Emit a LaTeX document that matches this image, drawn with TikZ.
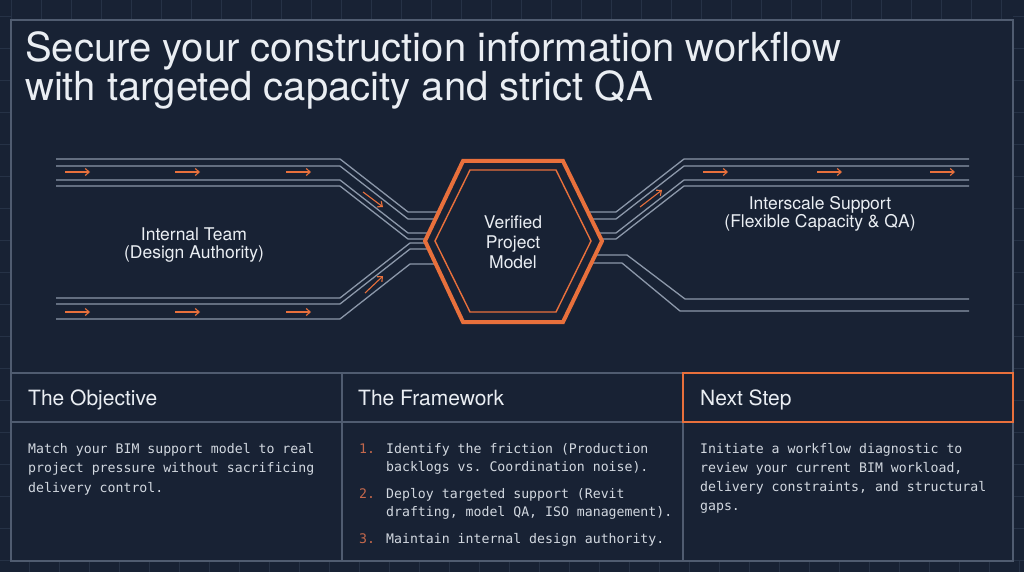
\documentclass[tikz,border=0pt]{standalone}
\usepackage{fontspec}
\setmainfont{TeX Gyre Heros}
\setmonofont{DejaVu Sans Mono}
\usepackage{tikz}
\usetikzlibrary{calc, arrows.meta}
\definecolor{bgnavy}{RGB}{24,34,52}
\definecolor{gridline}{RGB}{38,50,70}
\definecolor{frameline}{RGB}{80,92,112}
\definecolor{trackgray}{RGB}{140,152,170}
\definecolor{accent}{RGB}{232,112,60}
\definecolor{inktext}{RGB}{234,238,243}
\definecolor{bodytext}{RGB}{210,216,224}
\definecolor{numtext}{RGB}{196,104,76}
\tikzset{>={Straight Barb[length=4pt,width=7pt]}}
\tikzset{
  track/.style={draw=trackgray, line width=1.3pt},
  flowarrow/.style={->, draw=accent, line width=1.1pt},
  tablerule/.style={draw=frameline, line width=1.1pt},
  headline/.style={inner sep=0pt, anchor=base west, text=inktext,
    font=\fontsize{40}{46}\selectfont},
  sidelabel/.style={inner sep=0pt, align=center, text=inktext,
    font=\fontsize{17.5}{18.5}\selectfont},
  colhead/.style={inner sep=0pt, anchor=base west, text=inktext,
    font=\fontsize{21}{25}\selectfont},
  bodyline/.style={inner sep=0pt, anchor=base west, text=bodytext,
    font=\ttfamily\fontsize{13.2}{19.5}\selectfont},
  itemnum/.style={bodyline, text=numtext},
}

\begin{document}
\begin{tikzpicture}[x=1pt,y=-1pt]
  \fill[bgnavy] (0,0) rectangle (1024,572);
  \useasboundingbox (0,0) rectangle (1024,572);
  % faint blueprint grid round the frame
  \foreach \x in {11,41,...,1001} {
    \draw[gridline] (\x,0) -- (\x,20);
    \draw[gridline] (\x+18,561) -- (\x+18,572);
  }
  \foreach \y in {16,48,...,560} {
    \draw[gridline] (0,\y) -- (11,\y);
    \draw[gridline] (1013,\y) -- (1024,\y);
  }
  \draw[tablerule] (11,20) rectangle (1013,561);

  % title
  \node[headline] (title1) at (25,62) {Secure your construction information workflow};
  \node[headline] (title2) at (25,101) {with targeted capacity and strict QA};

  % tracks into the hub
  \foreach \y in {159,166,180,186}
    \draw[track] (56,\y) -- (340,\y) -- (408,{\y+53}) -- (450,{\y+53});
  \foreach \y in {298,304,319}
    \draw[track] (56,\y) -- (340,\y) -- (410,{\y-55}) -- (450,{\y-55});
  % tracks out of the hub
  \foreach \y in {159,166,180,186}
    \draw[track] (575,{\y+53}) -- (616,{\y+53}) -- (684,\y) -- (969,\y);
  \draw[track] (575,255) -- (627,255) -- (685,299) -- (969,299);
  \draw[track] (575,263) -- (622,263) -- (680,311) -- (969,311);

  % flow arrows
  \foreach \x in {65,175,286} {
    \draw[flowarrow] (\x,172) -- ++(25,0);
    \draw[flowarrow] (\x,312) -- ++(25,0);
  }
  \foreach \x in {703,817,930}
    \draw[flowarrow] (\x,172) -- ++(25,0);
  \draw[flowarrow] (363,192) -- (383,207);
  \draw[flowarrow] (365,293) -- (383,276);
  \draw[flowarrow] (640,207) -- (662,190);

  % hub hexagon
  \filldraw[fill=bgnavy, draw=accent, line width=4pt]
    (463,161) -- (563,161) -- (602,241) -- (563,322) -- (463,322) -- (425,241) -- cycle;
  \draw[accent, line width=1.4pt]
    (470,170) -- (556,170) -- (591,241) -- (556,312) -- (470,312) -- (435,241) -- cycle;
  \node[sidelabel, font=\fontsize{17.5}{20}\selectfont] (hub) at (513,242) {Verified\\Project\\Model};

  \node[sidelabel] (internal) at (194,245) {Internal Team\\(Design Authority)};
  \node[sidelabel] (interscale) at (820,214) {Interscale Support\\(Flexible Capacity \& QA)};

  % bottom table
  \draw[tablerule] (11,373) -- (1013,373);
  \draw[tablerule] (11,422) -- (1013,422);
  \draw[tablerule] (342,373) -- (342,561);
  \draw[tablerule] (683,373) -- (683,561);
  \draw[accent, line width=2.5pt] (683,373) rectangle (1013,422);

  \node[colhead] (objective) at (28,405) {The Objective};
  \node[colhead] (framework) at (358,405) {The Framework};
  \node[colhead] (nextstep) at (700,405) {Next Step};

  \foreach \txt [count=\i from 0] in {Match your BIM support model to real,
      project pressure without sacrificing, delivery control.}
    \node[bodyline] (obj\i) at (28,{453+19.5*\i}) {\txt};

  \node[itemnum] (num1) at (359,453) {1.};
  \node[itemnum] (num2) at (359,498) {2.};
  \node[itemnum] (num3) at (359,543) {3.};
  \node[bodyline] (fw1a) at (386,453) {Identify the friction (Production};
  \node[bodyline] (fw1b) at (386,471) {backlogs vs. Coordination noise).};
  \node[bodyline] (fw2a) at (386,498) {Deploy targeted support (Revit};
  \node[bodyline] (fw2b) at (386,516) {drafting, model QA, ISO management).};
  \node[bodyline] (fw3a) at (386,543) {Maintain internal design authority.};

  \foreach \txt [count=\i from 0] in {Initiate a workflow diagnostic to,
      {review your current BIM workload,}, {delivery constraints, and structural}, gaps.}
    \node[bodyline] (next\i) at (700,{453+19.3*\i}) {\txt};
\end{tikzpicture}
\end{document}
